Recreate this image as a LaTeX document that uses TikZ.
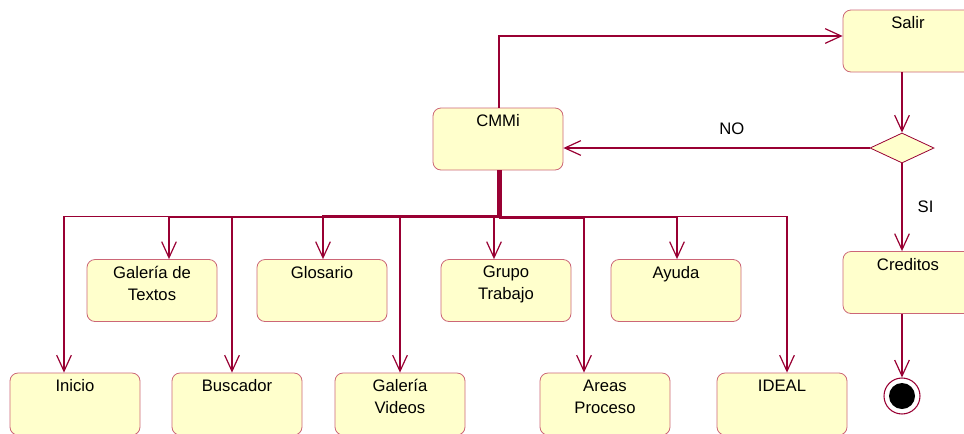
\documentclass[tikz,border=0pt]{standalone}
\usepackage{fontspec}
\setmainfont{Liberation Sans}
\usetikzlibrary{arrows.meta,shapes.geometric}
\definecolor{actfill}{RGB}{255,255,204}
\definecolor{actline}{RGB}{204,102,119}
\definecolor{flowline}{RGB}{153,0,51}

\begin{document}
\begin{tikzpicture}[x=0.75pt,y=-0.75pt,
        font=\fontsize{12.5}{16.5}\selectfont,
        act/.style={draw=actline, fill=actfill, rounded corners=6pt, line width=0.6pt,
            minimum width=97.5pt, minimum height=46.5pt, inner sep=0pt},
        acttext/.style={anchor=north, inner sep=5pt, align=center, label distance=0pt},
        flow/.style={draw=flowline, line width=0.9pt,
            -{Straight Barb[length=12pt,width=11pt,line width=0.9pt]}},
        choice/.style={diamond, draw=flowline, fill=actfill, line width=0.6pt,
            minimum width=48pt, minimum height=22.5pt, inner sep=0pt},
    ]
        \useasboundingbox (0,0) rectangle (964,433);
        \clip (0,0) rectangle (964,433);

        % activities
        \node[act, label={[acttext]north:Salir}] (salir) at (908,41) {};
        \node[act, label={[acttext]north:CMMi}] (cmmi) at (498,139) {};
        \node[act, label={[acttext]north:Creditos}] (creditos) at (908,282.5) {};
        \node[act, label={[acttext]north:Galería de\\Textos}] (galtex) at (152,290.5) {};
        \node[act, label={[acttext]north:Glosario}] (glos) at (322,290.5) {};
        \node[act, label={[acttext]north:Grupo\\Trabajo}] (grupo) at (506,290.5) {};
        \node[act, label={[acttext]north:Ayuda}] (ayuda) at (676,290.5) {};
        \node[act, label={[acttext]north:Inicio}] (inicio) at (75,404) {};
        \node[act, label={[acttext]north:Buscador}] (busc) at (237,404) {};
        \node[act, label={[acttext]north:Galería\\Videos}] (galvid) at (400,404) {};
        \node[act, label={[acttext]north:Areas\\Proceso}] (areas) at (605,404) {};
        \node[act, label={[acttext]north:IDEAL}] (ideal) at (782,404) {};

        % decision and end
        \node[choice] (dec) at (902,148) {};
        \node[circle, draw=flowline, fill=white, line width=0.8pt, minimum size=27pt, inner sep=0pt] (fin) at (902,396) {};
        \node[circle, fill=black, minimum size=19.5pt, inner sep=0pt] (findot) at (fin) {};

        % flows
        \draw[flow] ([shift={(1,0)}]cmmi.north) |- ([shift={(0,-5)}]salir.west);
        \draw[flow] (dec.north |- salir.south) -- (dec.north);
        \draw[flow] (dec.west) -- (dec.west -| cmmi.east)
            node[pos=0.45, above=6pt, text=black] (no) {NO};
        \draw[flow] (dec.south) -- (dec.south |- creditos.north)
            node[midway, right=8pt, text=black] (si) {SI};
        \draw[flow] (fin |- creditos.south) -- (fin.north);

        \draw[flow] ([shift={(0,0)}]cmmi.south) -- ++(0,46) -| ([shift={(-11,0)}]inicio.north);
        \draw[flow] ([shift={(1,0)}]cmmi.south) -- ++(0,47) -| ([shift={(17,0)}]galtex.north);
        \draw[flow] ([shift={(2,0)}]cmmi.south) -- ++(0,46) -| ([shift={(-5,0)}]busc.north);
        \draw[flow] ([shift={(3,0)}]cmmi.south) -- ++(0,45) -| ([shift={(1,0)}]glos.north);
        \draw[flow] ([shift={(2,0)}]cmmi.south) -- ++(0,47) -| (galvid.north);
        \draw[flow] ([shift={(3,0)}]cmmi.south) -- ++(0,46) -| ([shift={(-12,0)}]grupo.north);
        \draw[flow] ([shift={(2,0)}]cmmi.south) -- ++(0,48) -| ([shift={(-21,0)}]areas.north);
        \draw[flow] ([shift={(3,0)}]cmmi.south) -- ++(0,47) -| ([shift={(1,0)}]ayuda.north);
        \draw[flow] ([shift={(2,0)}]cmmi.south) -- ++(0,46) -| ([shift={(5,0)}]ideal.north);
\end{tikzpicture}
\end{document}
